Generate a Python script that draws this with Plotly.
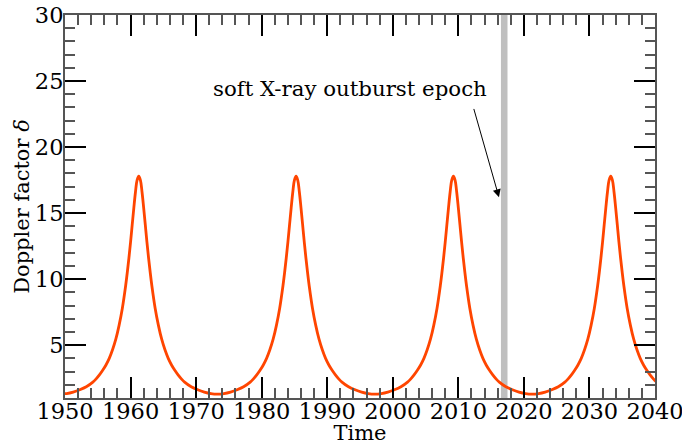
import plotly.graph_objects as go

# Doppler factor: one cycle around each peak (offset in years from the peak)
peak_years = [1961.25, 1985.25, 2009.25, 2033.25]
cycle_offset = [-12, -11, -10, -9, -8, -7, -6.5, -6, -5.5, -5, -4.5, -4, -3.5, -3, -2.5, -2, -1.75,
                -1.5, -1.25, -1, -0.75, -0.5, -0.25, 0, 0.25, 0.5, 0.75, 1, 1.25, 1.5, 1.75, 2,
                2.5, 3, 3.5, 4, 4.5, 5, 5.5, 6, 6.5, 7, 8, 9, 10, 11]
cycle_delta = [1.30, 1.34, 1.45, 1.62, 1.85, 2.2, 2.45, 2.75, 3.1, 3.5, 4.0, 4.65, 5.45, 6.5, 7.8,
               9.5, 10.5, 11.6, 12.8, 14.1, 15.4, 16.6, 17.5, 17.8, 17.5, 16.6, 15.4, 14.1, 12.8,
               11.6, 10.5, 9.5, 7.8, 6.5, 5.45, 4.65, 4.0, 3.5, 3.1, 2.75, 2.45, 2.2, 1.85, 1.62,
               1.45, 1.34]

outburst_epoch = [2016.5, 2017.5]
x_ticks = [1950, 1960, 1970, 1980, 1990, 2000, 2010, 2020, 2030, 2040]
y_ticks = [5, 10, 15, 20, 25, 30]

years = [p + o for p in peak_years for o in cycle_offset]
delta = [d for p in peak_years for d in cycle_delta]

FONT = "DejaVu Serif"
fig = go.Figure()
fig.add_trace(go.Scatter(x=years, y=delta, mode="lines",
                         line=dict(color="#ff4500", width=2.8, shape="spline", smoothing=1.0),
                         showlegend=False, hoverinfo="skip"))

fig.add_shape(type="rect", xref="x", yref="y domain", x0=outburst_epoch[0], x1=outburst_epoch[1],
              y0=0, y1=1, fillcolor="#bfbfbf", line_width=0, layer="below")

fig.add_annotation(x=1993.4, y=24.4, xref="x", yref="y", text="soft X-ray outburst epoch",
                   showarrow=False, font=dict(family=FONT, size=21.3, color="black"))
fig.add_annotation(x=2016.2, y=16.2, ax=2012.3, ay=23.0, xref="x", yref="y", axref="x", ayref="y",
                   text="", showarrow=True, arrowhead=2, arrowsize=1.6, arrowwidth=1,
                   arrowcolor="black")

axis_common = dict(showline=True, linecolor="#555555", linewidth=2, mirror="ticks",
                   ticks="inside", tickcolor="black", tickwidth=1.5, ticklen=21,
                   showgrid=False, zeroline=False, automargin=False, ticklabeloverflow="allow",
                   tickfont=dict(family=FONT, size=22.5, color="black"))

fig.update_xaxes(range=[1950, 2040], tickmode="array", tickvals=x_ticks,
                 ticktext=[str(v) for v in x_ticks], ticklabelstandoff=-8,
                 minor=dict(dtick=2, tick0=1950, ticks="inside", ticklen=10, tickcolor="#555555",
                            tickwidth=1.5),
                 title=dict(text="Time", font=dict(family=FONT, size=21, color="black"), standoff=0),
                 **axis_common)
fig.update_yaxes(range=[1, 30], tickmode="array", tickvals=y_ticks,
                 ticktext=[str(v) for v in y_ticks], ticklabelstandoff=-5,
                 minor=dict(dtick=1, tick0=0, ticks="inside", ticklen=10, tickcolor="#555555",
                            tickwidth=1.5),
                 title=dict(text="Doppler factor <i>δ</i>", font=dict(family=FONT, size=21, color="black"),
                            standoff=0),
                 **axis_common)

fig.update_layout(width=682, height=445, margin=dict(l=65, r=27, t=15, b=47),
                  plot_bgcolor="white", paper_bgcolor="white")

fig.write_html("out.html", config={"displayModeBar": False},
               post_script="document.body.style.margin='0';")
